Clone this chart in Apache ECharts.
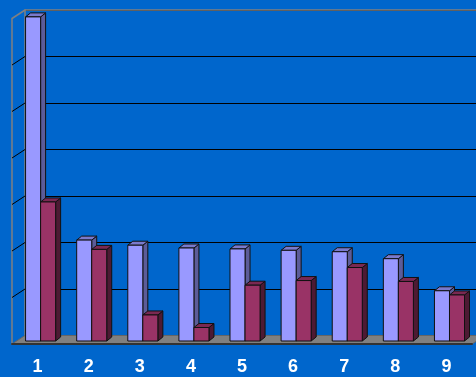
<!DOCTYPE html>
<html>
<head>
<meta charset="utf-8">
<script src="https://cdn.jsdelivr.net/npm/echarts@6/dist/echarts.min.js"></script>
<style>
  html, body { margin: 0; padding: 0; background: #0066CC; }
  #chart { width: 476px; height: 377px; }
</style>
</head>
<body>
<div id="chart"></div>
<script>
// 数据
const categories = ['1', '2', '3', '4', '5', '6', '7', '8', '9'];
const seriesA = [6.97, 2.17, 2.06, 2.0, 1.98, 1.95, 1.92, 1.77, 1.08];
const seriesB = [2.99, 1.97, 0.56, 0.29, 1.2, 1.3, 1.58, 1.28, 0.99];
const gridTicks = [1, 2, 3, 4, 5, 6];

const chart = echarts.init(document.getElementById('chart'));

// 墙体偏移 / 柱子偏移
const WALL_DX = 13, WALL_DY = -8.5;
const BAR_DX = 3.5, BAR_DY = -3;
const DEPTH_X = 5, DEPTH_Y = -4;

const makeBar = (idx, front, side, top) => (params, api) => {
    const cat = api.value(0);
    const v = api.value(1);
    const base = api.coord([cat, 0]);
    const peak = api.coord([cat, v]);
    const band = api.size([1, 0])[0];
    const w = band * 0.294;
    const x0 = base[0] - band * 0.303 + idx * w + BAR_DX;
    const x1 = x0 + w;
    const yb = base[1] + BAR_DY;
    const yt = peak[1] + BAR_DY;
    const stroke = { stroke: '#111', lineWidth: 1 };
    return {
        type: 'group',
        children: [
            { type: 'polygon', shape: { points: [[x1, yt], [x1 + DEPTH_X, yt + DEPTH_Y], [x1 + DEPTH_X, yb + DEPTH_Y], [x1, yb]] },
              style: Object.assign({ fill: side }, stroke) },
            { type: 'polygon', shape: { points: [[x0, yt], [x0 + DEPTH_X, yt + DEPTH_Y], [x1 + DEPTH_X, yt + DEPTH_Y], [x1, yt]] },
              style: Object.assign({ fill: top }, stroke) },
            { type: 'rect', shape: { x: x0, y: yt, width: w, height: yb - yt },
              style: Object.assign({ fill: front }, stroke) }
        ]
    };
};

// 地板、左侧墙、后墙上边
const renderFrame = (params, api) => {
    const cs = params.coordSys;
    const xl = cs.x, xr = cs.x + cs.width, yf = cs.y + cs.height, yTop = cs.y;
    const children = [
        { type: 'polygon', shape: { points: [[xl, yf], [xr, yf], [xr + WALL_DX, yf + WALL_DY], [xl + WALL_DX, yf + WALL_DY]] },
          style: { fill: '#808080', stroke: '#666', lineWidth: 1 } },
        { type: 'line', shape: { x1: xl, y1: yTop, x2: xl + WALL_DX, y2: yTop + WALL_DY },
          style: { stroke: '#808080', lineWidth: 1.5 } },
        { type: 'line', shape: { x1: xl + WALL_DX, y1: yTop + WALL_DY, x2: xr + WALL_DX, y2: yTop + WALL_DY },
          style: { stroke: '#808080', lineWidth: 1.5 } }
    ];
    gridTicks.forEach((t) => {
        const y = api.coord([0, t])[1];
        children.push({ type: 'line', shape: { x1: xl, y1: y, x2: xl + WALL_DX, y2: y + WALL_DY },
            style: { stroke: '#000', lineWidth: 1 } });
    });
    return { type: 'group', children };
};

const option = {
    backgroundColor: '#0066CC',
    animation: false,
    grid: [
        { left: 12, right: 4, top: 18.5, bottom: 33 },
        { left: 25, right: -9, top: 10, bottom: 41.5 }
    ],
    xAxis: [
        {
            type: 'category', gridIndex: 0, data: categories, z: 5,
            axisLine: { lineStyle: { color: '#333', width: 2 } },
            axisTick: { length: 5, lineStyle: { color: '#222' } },
            axisLabel: { color: '#fff', fontWeight: 'bold', fontSize: 18, fontFamily: 'Liberation Sans, Arial', margin: 14 }
        },
        {
            type: 'category', gridIndex: 1, data: categories, show: false
        }
    ],
    yAxis: [
        {
            type: 'value', gridIndex: 0, min: 0, max: 7, interval: 1,
            axisLine: { show: true, lineStyle: { color: '#808080', width: 1.5 } },
            axisTick: { show: false }, axisLabel: { show: false }, splitLine: { show: false }
        },
        {
            type: 'value', gridIndex: 1, min: 0, max: 7, interval: 1,
            axisLine: { show: true, lineStyle: { color: '#808080', width: 1.5 } },
            axisTick: { show: false }, axisLabel: { show: false },
            splitLine: { show: true, lineStyle: { color: '#000', width: 1 } }
        }
    ],
    series: [
        {
            type: 'custom', xAxisIndex: 0, yAxisIndex: 0, z: 1, clip: false,
            data: [[0, 0]], renderItem: renderFrame
        },
        {
            type: 'custom', xAxisIndex: 0, yAxisIndex: 0, z: 3, clip: false,
            data: seriesA.map((v, i) => [i, v]),
            encode: { x: 0, y: 1 },
            renderItem: makeBar(0, '#9999FF', '#5C5C99', '#7A7ACC')
        },
        {
            type: 'custom', xAxisIndex: 0, yAxisIndex: 0, z: 3, clip: false,
            data: seriesB.map((v, i) => [i, v]),
            encode: { x: 0, y: 1 },
            renderItem: makeBar(1, '#993366', '#4D1A33', '#7A2952')
        }
    ]
};

chart.setOption(option);
</script>
</body>
</html>
